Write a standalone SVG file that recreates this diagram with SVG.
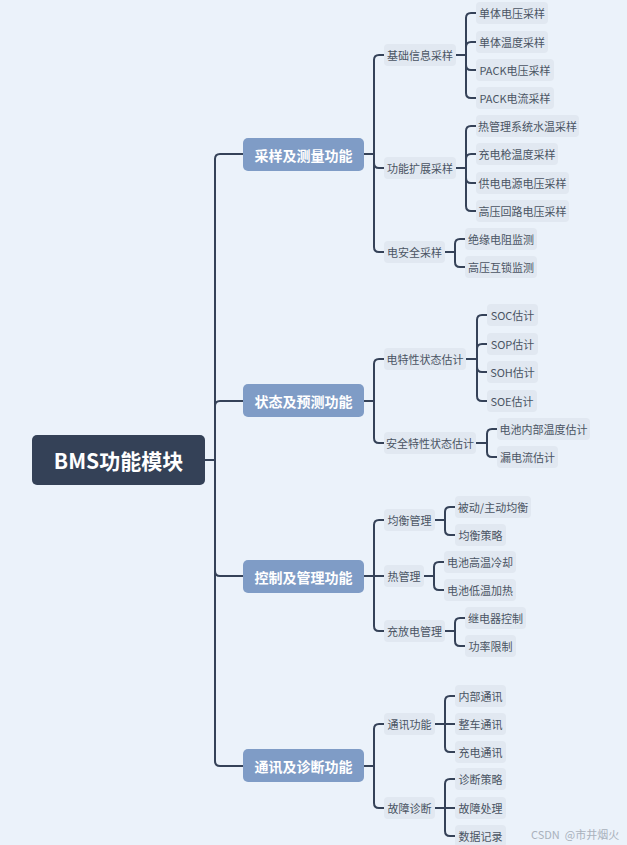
<svg xmlns="http://www.w3.org/2000/svg" width="627" height="845" viewBox="0 0 627 845">
<style>
.bg{fill:#EBF2FA}
.root rect{fill:#344157}
.root text{fill:#FFFFFF;font-size:21px;font-weight:bold}
.l1 rect{fill:#7F9CC6}
.l1 text{fill:#FFFFFF;font-size:14px;font-weight:bold}
.n rect{fill:#E1E8F1}
.n text{fill:#4A5463;font-size:11px}
text{font-family:"Noto Sans CJK SC","Noto Sans",sans-serif;text-anchor:middle;dominant-baseline:central}
.c path{fill:none;stroke:#354258;stroke-width:2;stroke-linecap:round;stroke-linejoin:round}
.wm{fill:#A9B1BC;font-size:11px;text-anchor:start}
</style>
<rect class="bg" x="0" y="0" width="627" height="845"/>

<g class="c" id="connectors">
<path d="M205,460 H215 V159 Q215,154 220,154 H243"/>
<path d="M205,460 H215 V406 Q215,401 220,401 H243"/>
<path d="M205,460 H215 V571 Q215,576 220,576 H243"/>
<path d="M205,460 H215 V761 Q215,766 220,766 H243"/>
<path d="M364,154 H374 V60 Q374,55 379,55 H384"/>
<path d="M364,154 H374 V163 Q374,168 379,168 H384"/>
<path d="M364,154 H374 V247 Q374,252 379,252 H384"/>
<path d="M364,401 H374 V364 Q374,359 379,359 H384"/>
<path d="M364,401 H374 V438 Q374,443 379,443 H384"/>
<path d="M364,576 H374 V525 Q374,520 379,520 H384"/>
<path d="M364,576 H384"/>
<path d="M364,576 H374 V626 Q374,631 379,631 H384"/>
<path d="M364,766 H374 V729 Q374,724 379,724 H384"/>
<path d="M364,766 H374 V803 Q374,808 379,808 H384"/>
<path d="M456,55 H466 V18 Q466,13 471,13 H476"/>
<path d="M456,55 H466 V47 Q466,42 471,42 H476"/>
<path d="M456,55 H466 V65 Q466,70 471,70 H476"/>
<path d="M456,55 H466 V93 Q466,98 471,98 H476"/>
<path d="M456,168 H466 V131 Q466,126 471,126 H476"/>
<path d="M456,168 H466 V159 Q466,154 471,154 H476"/>
<path d="M456,168 H466 V178 Q466,183 471,183 H476"/>
<path d="M456,168 H466 V206 Q466,211 471,211 H476"/>
<path d="M445,252 H455 V244 Q455,239 460,239 H465"/>
<path d="M445,252 H455 V262 Q455,267 460,267 H465"/>
<path d="M466,359 H477 V320 Q477,315 482,315 H487"/>
<path d="M466,359 H477 V349 Q477,344 482,344 H487"/>
<path d="M466,359 H477 V367 Q477,372 482,372 H487"/>
<path d="M466,359 H477 V396 Q477,401 482,401 H487"/>
<path d="M476,443 H487 V434 Q487,429 492,429 H497"/>
<path d="M476,443 H487 V452 Q487,457 492,457 H497"/>
<path d="M435,520 H445 V512 Q445,507 450,507 H455"/>
<path d="M435,520 H445 V530 Q445,535 450,535 H455"/>
<path d="M424,576 H434 V567 Q434,562 439,562 H444"/>
<path d="M424,576 H434 V585 Q434,590 439,590 H444"/>
<path d="M445,631 H455 V623 Q455,618 460,618 H465"/>
<path d="M445,631 H455 V641 Q455,646 460,646 H465"/>
<path d="M435,724 H445 V701 Q445,696 450,696 H455"/>
<path d="M435,724 H455"/>
<path d="M435,724 H445 V747 Q445,752 450,752 H455"/>
<path d="M435,808 H445 V784 Q445,779 450,779 H455"/>
<path d="M435,808 H455"/>
<path d="M435,808 H445 V831 Q445,836 450,836 H455"/>
</g>

<g id="root" class="root"><rect x="32" y="435" width="173" height="50" rx="5"/><text x="118.5" y="460">BMS功能模块</text></g>

<g id="l1-sample" class="l1"><rect x="243" y="138" width="121" height="33" rx="5"/><text x="303.5" y="154.5">采样及测量功能</text></g>
<g id="l1-state" class="l1"><rect x="243" y="384" width="121" height="33" rx="5"/><text x="303.5" y="400.5">状态及预测功能</text></g>
<g id="l1-control" class="l1"><rect x="243" y="560" width="121" height="33" rx="5"/><text x="303.5" y="576.5">控制及管理功能</text></g>
<g id="l1-comm" class="l1"><rect x="243" y="749" width="121" height="33" rx="5"/><text x="303.5" y="765.5">通讯及诊断功能</text></g>

<g id="n-basic" class="n"><rect x="384" y="44" width="72" height="22" rx="4"/><text x="420" y="55">基础信息采样</text></g>
<g id="n-ext" class="n"><rect x="384" y="157" width="72" height="22" rx="4"/><text x="420" y="168">功能扩展采样</text></g>
<g id="n-safe" class="n"><rect x="384" y="241" width="61" height="22" rx="4"/><text x="414.5" y="252">电安全采样</text></g>
<g id="n-elec" class="n"><rect x="384" y="348" width="82" height="22" rx="4"/><text x="425" y="359">电特性状态估计</text></g>
<g id="n-safest" class="n"><rect x="384" y="432" width="92" height="22" rx="4"/><text x="430" y="443">安全特性状态估计</text></g>
<g id="n-bal" class="n"><rect x="384" y="509" width="51" height="22" rx="4"/><text x="409.5" y="520">均衡管理</text></g>
<g id="n-therm" class="n"><rect x="384" y="565" width="40" height="22" rx="4"/><text x="404" y="576">热管理</text></g>
<g id="n-chg" class="n"><rect x="384" y="620" width="61" height="22" rx="4"/><text x="414.5" y="631">充放电管理</text></g>
<g id="n-comm" class="n"><rect x="384" y="713" width="51" height="22" rx="4"/><text x="409.5" y="724">通讯功能</text></g>
<g id="n-fault" class="n"><rect x="384" y="797" width="51" height="22" rx="4"/><text x="409.5" y="808">故障诊断</text></g>

<g id="leaf-1" class="n"><rect x="476" y="2" width="72" height="22" rx="4"/><text x="512" y="13">单体电压采样</text></g>
<g id="leaf-2" class="n"><rect x="476" y="31" width="72" height="22" rx="4"/><text x="512" y="42">单体温度采样</text></g>
<g id="leaf-3" class="n"><rect x="476" y="59" width="78" height="22" rx="4"/><text x="515" y="70">PACK电压采样</text></g>
<g id="leaf-4" class="n"><rect x="476" y="87" width="78" height="22" rx="4"/><text x="515" y="98">PACK电流采样</text></g>
<g id="leaf-5" class="n"><rect x="476" y="115" width="103" height="22" rx="4"/><text x="527.5" y="126">热管理系统水温采样</text></g>
<g id="leaf-6" class="n"><rect x="476" y="143" width="82" height="22" rx="4"/><text x="517" y="154">充电枪温度采样</text></g>
<g id="leaf-7" class="n"><rect x="476" y="172" width="93" height="22" rx="4"/><text x="522.5" y="183">供电电源电压采样</text></g>
<g id="leaf-8" class="n"><rect x="476" y="200" width="93" height="22" rx="4"/><text x="522.5" y="211">高压回路电压采样</text></g>
<g id="leaf-9" class="n"><rect x="465" y="228" width="72" height="22" rx="4"/><text x="501" y="239">绝缘电阻监测</text></g>
<g id="leaf-10" class="n"><rect x="465" y="256" width="72" height="22" rx="4"/><text x="501" y="267">高压互锁监测</text></g>
<g id="leaf-11" class="n"><rect x="487" y="304" width="51" height="22" rx="4"/><text x="512.5" y="315">SOC估计</text></g>
<g id="leaf-12" class="n"><rect x="487" y="333" width="51" height="22" rx="4"/><text x="512.5" y="344">SOP估计</text></g>
<g id="leaf-13" class="n"><rect x="487" y="361" width="51" height="22" rx="4"/><text x="512.5" y="372">SOH估计</text></g>
<g id="leaf-14" class="n"><rect x="487" y="390" width="50" height="22" rx="4"/><text x="512" y="401">SOE估计</text></g>
<g id="leaf-15" class="n"><rect x="497" y="418" width="93" height="22" rx="4"/><text x="543.5" y="429">电池内部温度估计</text></g>
<g id="leaf-16" class="n"><rect x="497" y="446" width="61" height="22" rx="4"/><text x="527.5" y="457">漏电流估计</text></g>
<g id="leaf-17" class="n"><rect x="455" y="496" width="76" height="22" rx="4"/><text x="493" y="507">被动/主动均衡</text></g>
<g id="leaf-18" class="n"><rect x="455" y="524" width="51" height="22" rx="4"/><text x="480.5" y="535">均衡策略</text></g>
<g id="leaf-19" class="n"><rect x="444" y="551" width="72" height="22" rx="4"/><text x="480" y="562">电池高温冷却</text></g>
<g id="leaf-20" class="n"><rect x="444" y="579" width="72" height="22" rx="4"/><text x="480" y="590">电池低温加热</text></g>
<g id="leaf-21" class="n"><rect x="465" y="607" width="61" height="22" rx="4"/><text x="495.5" y="618">继电器控制</text></g>
<g id="leaf-22" class="n"><rect x="465" y="635" width="51" height="22" rx="4"/><text x="490.5" y="646">功率限制</text></g>
<g id="leaf-23" class="n"><rect x="455" y="685" width="51" height="22" rx="4"/><text x="480.5" y="696">内部通讯</text></g>
<g id="leaf-24" class="n"><rect x="455" y="713" width="51" height="22" rx="4"/><text x="480.5" y="724">整车通讯</text></g>
<g id="leaf-25" class="n"><rect x="455" y="741" width="51" height="22" rx="4"/><text x="480.5" y="752">充电通讯</text></g>
<g id="leaf-26" class="n"><rect x="455" y="768" width="51" height="22" rx="4"/><text x="480.5" y="779">诊断策略</text></g>
<g id="leaf-27" class="n"><rect x="455" y="797" width="51" height="22" rx="4"/><text x="480.5" y="808">故障处理</text></g>
<g id="leaf-28" class="n"><rect x="455" y="825" width="51" height="22" rx="4"/><text x="480.5" y="836">数据记录</text></g>

<text class="wm" x="531" y="834" xml:space="preserve">CSDN  @市井烟火</text>
</svg>
